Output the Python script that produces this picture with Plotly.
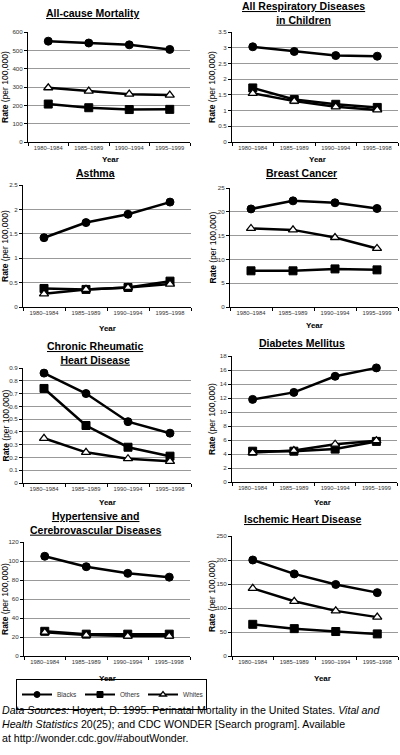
import plotly.graph_objects as go

W, H = 400, 755

periods_99 = ["1980–1984", "1985–1989", "1990–1994", "1995–1999"]
periods_98 = ["1980–1984", "1985–1989", "1990–1994", "1995–1998"]

# panel data: Blacks, Others, Whites
allcause_blacks = [550, 540, 530, 505]
allcause_others = [207, 187, 177, 178]
allcause_whites = [296, 278, 261, 256]

resp_blacks = [3.03, 2.88, 2.75, 2.73]
resp_others = [1.72, 1.35, 1.20, 1.10]
resp_whites = [1.55, 1.30, 1.12, 1.02]

asthma_blacks = [1.42, 1.73, 1.90, 2.15]
asthma_others = [0.38, 0.36, 0.40, 0.53]
asthma_whites = [0.27, 0.36, 0.40, 0.47]

breast_blacks = [20.6, 22.3, 21.9, 20.7]
breast_others = [7.6, 7.6, 8.0, 7.8]
breast_whites = [16.5, 16.2, 14.6, 12.3]

rheum_blacks = [0.86, 0.70, 0.48, 0.39]
rheum_others = [0.74, 0.45, 0.28, 0.21]
rheum_whites = [0.35, 0.24, 0.19, 0.17]

diab_blacks = [11.8, 12.8, 15.1, 16.3]
diab_others = [4.4, 4.4, 4.7, 5.8]
diab_whites = [4.2, 4.5, 5.4, 5.9]

hyper_blacks = [105, 94, 87, 83]
hyper_others = [26, 23, 23, 23]
hyper_whites = [25, 22, 21, 21]

isch_blacks = [200, 171, 149, 132]
isch_others = [66, 57, 51, 46]
isch_whites = [141, 114, 94, 81]

series_names = ["Blacks", "Others", "Whites"]
titles = ["All-cause Mortality", "All Respiratory Diseases<br>in Children", "Asthma",
          "Breast Cancer", "Chronic Rheumatic<br>Heart Disease", "Diabetes Mellitus",
          "Hypertensive and<br>Cerebrovascular Diseases", "Ischemic Heart Disease"]
y_ranges = [(600, 100), (3.5, 0.5), (2.5, 0.5), (25, 5), (0.9, 0.1), (18, 2), (120, 20), (250, 50)]

panels = [
    (periods_99, allcause_blacks, allcause_others, allcause_whites),
    (periods_98, resp_blacks, resp_others, resp_whites),
    (periods_98, asthma_blacks, asthma_others, asthma_whites),
    (periods_99, breast_blacks, breast_others, breast_whites),
    (periods_98, rheum_blacks, rheum_others, rheum_whites),
    (periods_99, diab_blacks, diab_others, diab_whites),
    (periods_98, hyper_blacks, hyper_others, hyper_whites),
    (periods_98, isch_blacks, isch_others, isch_whites),
]

FONT = "Liberation Sans, Arial"

# layout in pixels: (left, right, top, bottom)
boxes = [
    (28, 190, 32, 142), (232, 398, 32, 142),
    (23, 191, 185, 307), (230, 398, 188, 307),
    (23, 191, 368, 483), (232, 397, 356, 482),
    (24, 190, 542, 656), (232, 398, 536, 656),
]
title_pos = [(93, 13), (303, 13), (95, 173), (301, 173), (95, 353), (302, 343), (95, 523), (302, 519)]
year_pos = [(110, 159), (317, 159), (107, 328), (314, 325), (107, 502), (322, 502), (107, 678), (322, 678)]
rate_x = [5, 212, 5, 212, 5, 212, 5, 212]


def px_x(x):
    return x / W


def px_y(y):
    return 1 - y / H


fig = go.Figure()
marker_styles = [
    dict(symbol="circle", color="black", line=dict(color="black", width=1)),
    dict(symbol="square", color="black", line=dict(color="black", width=1)),
    dict(symbol="triangle-up", color="white", line=dict(color="black", width=1.3)),
]

annotations = []
layout_axes = {}
for i, (cats, b, o, w) in enumerate(panels):
    n = i + 1
    xa = "x" if n == 1 else f"x{n}"
    ya = "y" if n == 1 else f"y{n}"
    for name, mk, vals in zip(series_names, marker_styles, [b, o, w]):
        fig.add_trace(go.Scatter(
            x=cats, y=vals, mode="lines+markers", name=name,
            line=dict(color="black", width=2.5), marker=dict(size=8, **mk),
            xaxis=xa, yaxis=ya, showlegend=False, cliponaxis=False))
    l, r, t, btm = boxes[i]
    ymax, dt = y_ranges[i]
    sfx = "" if n == 1 else str(n)
    layout_axes[f"xaxis{sfx}"] = dict(
        domain=[px_x(l), px_x(r)], anchor=ya, type="category", range=[-0.5, 3.5],
        tickson="boundaries", ticks="outside", ticklen=3, tickcolor="black", tickangle=0,
        showline=True, linecolor="black", linewidth=1, showgrid=False,
        tickfont=dict(family=FONT, size=5.8, color="#333333"), fixedrange=True)
    layout_axes[f"yaxis{sfx}"] = dict(
        domain=[px_y(btm), px_y(t)], anchor=xa, range=[0, ymax], dtick=dt, tick0=0,
        ticks="outside", ticklen=3, tickcolor="black", showline=True, linecolor="black",
        linewidth=1, showgrid=True, gridcolor="#999999", gridwidth=1, zeroline=False,
        tickfont=dict(family=FONT, size=6.2, color="#333333"), fixedrange=True)
    tx, ty = title_pos[i]
    ttext = "<br>".join(f"<b><u>{s}</u></b>" for s in titles[i].split("<br>"))
    annotations.append(dict(x=px_x(tx), y=px_y(ty), xref="paper", yref="paper", text=ttext,
                            showarrow=False, xanchor="center", yanchor="middle",
                            font=dict(family=FONT, size=10.5, color="black")))
    yx, yy = year_pos[i]
    annotations.append(dict(x=px_x(yx), y=px_y(yy), xref="paper", yref="paper", text="<b>Year</b>",
                            showarrow=False, xanchor="center", yanchor="middle",
                            font=dict(family=FONT, size=8, color="black")))
    annotations.append(dict(x=px_x(rate_x[i]), y=px_y((t + btm) / 2), xref="paper", yref="paper",
                            text="<b>Rate</b> (per 100,000)", textangle=-90,
                            showarrow=False, xanchor="center", yanchor="middle",
                            font=dict(family=FONT, size=8.5, color="black")))

# legend-only entries (no data points)
for name, mk in zip(series_names, marker_styles):
    fig.add_trace(go.Scatter(x=[None], y=[None], mode="lines+markers", name=name,
                             line=dict(color="black", width=2), marker=dict(size=6, **mk),
                             showlegend=True))

annotations.append(dict(
    x=0, y=px_y(702), xref="paper", yref="paper", xanchor="left", yanchor="top", align="left",
    showarrow=False,
    text=("<i>Data Sources:</i> Hoyert, D. 1995. Perinatal Mortality in the United States. <i>Vital and</i><br>"
          "<i>Health Statistics</i> 20(25); and CDC WONDER [Search program]. Available<br>"
          "at http://wonder.cdc.gov/#aboutWonder."),
    font=dict(family=FONT, size=10.6, color="black")))

fig.update_layout(
    template="none",
    width=W, height=H, margin=dict(l=0, r=0, t=0, b=0),
    paper_bgcolor="white", plot_bgcolor="white",
    annotations=annotations,
    legend=dict(orientation="h", x=px_x(16), y=px_y(679), xanchor="left", yanchor="top",
                bordercolor="black", borderwidth=1, bgcolor="white",
                font=dict(family=FONT, size=6.5, color="#333333"),
                entrywidth=18, tracegroupgap=0, itemwidth=30),
    **layout_axes,
)
fig.write_html(
    "out.html",
    config={"displayModeBar": False},
    post_script="document.body.style.margin='0';document.body.style.overflow='hidden';",
)
